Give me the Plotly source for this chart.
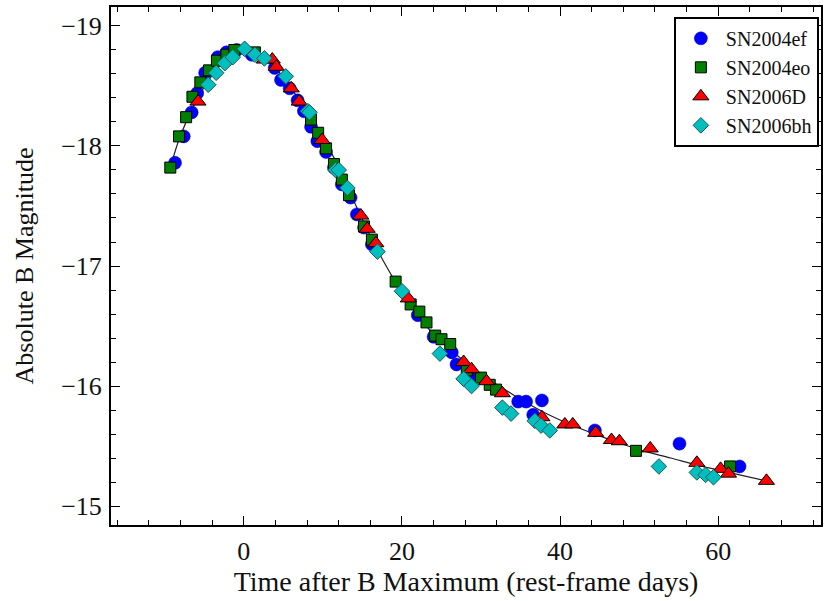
import plotly.graph_objects as go

# Template light curve
curve_days = [-9.3, -8, -6, -4, -2, 0, 2, 4, 6, 8, 10, 12, 14, 16, 18, 20, 22, 24, 26, 28, 30,
              34, 38, 42, 46, 50, 54, 58, 62, 66]
curve_mag = [-17.82, -18.09, -18.38, -18.59, -18.74, -18.80, -18.76, -18.65, -18.48, -18.28,
             -18.06, -17.83, -17.53, -17.25, -17.00, -16.78, -16.59, -16.43, -16.31, -16.20,
             -16.10, -15.93, -15.78, -15.66, -15.56, -15.47, -15.40, -15.33, -15.27, -15.21]

# SN2004ef
ef_days = [-8.7, -7.6, -6.6, -5.9, -4.9, -3.3, -2.2, -0.9, 1.0, 3.9, 4.7, 5.8, 6.8, 7.6, 8.5,
           9.3, 10.4, 11.4, 12.4, 13.5, 14.3, 15.2, 16.2, 22.0, 24.0, 26.3, 26.9, 29.0, 34.7,
           35.7, 37.7, 36.6, 44.4, 55.1, 62.7]
ef_mag = [-17.86, -18.08, -18.28, -18.44, -18.61, -18.74, -18.78, -18.80, -18.76, -18.65,
          -18.55, -18.48, -18.38, -18.29, -18.16, -18.04, -17.95, -17.82, -17.68, -17.57,
          -17.43, -17.32, -17.18, -16.59, -16.41, -16.28, -16.18, -16.08, -15.87, -15.87,
          -15.88, -15.76, -15.63, -15.52, -15.33]

# SN2004eo
eo_days = [-9.3, -8.2, -7.3, -6.5, -5.5, -4.4, -3.4, -2.2, -1.2, 1.4, 8.5, 9.4, 10.4, 11.4,
           12.4, 13.3, 15.2, 16.2, 19.2, 21.1, 22.2, 23.1, 24.2, 25.0, 26.1, 28.2, 30.0, 31.1,
           31.9, 49.6, 61.5]
eo_mag = [-17.82, -18.08, -18.24, -18.41, -18.53, -18.63, -18.71, -18.76, -18.80, -18.78,
          -18.22, -18.11, -17.98, -17.85, -17.72, -17.59, -17.33, -17.22, -16.87, -16.68,
          -16.62, -16.53, -16.42, -16.39, -16.35, -16.13, -16.07, -16.01, -15.97, -15.46,
          -15.33]

# SN2006D
d_days = [-5.8, 2.6, 3.6, 4.1, 6.0, 7.0, 9.9, 14.8, 15.6, 16.7, 20.8, 27.8, 28.8, 30.7, 32.7,
          37.7, 40.6, 41.6, 44.5, 46.5, 47.5, 51.4, 57.3, 60.3, 61.3, 66.1]
d_mag = [-18.37, -18.72, -18.72, -18.66, -18.48, -18.37, -18.05, -17.42, -17.31, -17.19,
         -16.73, -16.20, -16.14, -16.04, -15.94, -15.74, -15.68, -15.68, -15.61, -15.55,
         -15.54, -15.48, -15.36, -15.31, -15.27, -15.21]

# SN2006bh
bh_days = [-4.5, -3.5, -2.4, -1.4, 0.1, 1.4, 2.6, 5.3, 8.1, 8.3, 11.6, 12.0, 13.1, 16.9, 20.0,
           24.8, 27.8, 28.8, 32.7, 33.8, 36.8, 37.6, 38.7, 52.5, 57.3, 58.4, 59.4]
bh_mag = [-18.51, -18.61, -18.69, -18.74, -18.81, -18.76, -18.73, -18.58, -18.29, -18.28,
          -17.80, -17.80, -17.65, -17.12, -16.79, -16.27, -16.06, -16.00, -15.82, -15.77,
          -15.71, -15.67, -15.63, -15.33, -15.28, -15.26, -15.24]

FONT = "Liberation Serif, Times New Roman, serif"

fig = go.Figure()
fig.add_trace(go.Scatter(x=curve_days, y=curve_mag, mode="lines", line=dict(color="#222222", width=1.2, shape="spline"),
                         showlegend=False, hoverinfo="skip"))
fig.add_trace(go.Scatter(x=ef_days, y=ef_mag, mode="markers", name="SN2004ef", legendgroup="a",
                         marker=dict(symbol="circle", size=13, color="#0000ff", line=dict(color="#0000aa", width=0.5))))
fig.add_trace(go.Scatter(x=eo_days, y=eo_mag, mode="markers", name="SN2004eo", legendgroup="b",
                         marker=dict(symbol="square", size=11, color="#007f00", line=dict(color="#000000", width=1))))
fig.add_trace(go.Scatter(x=d_days, y=d_mag, mode="markers", name="SN2006D", legendgroup="c",
                         marker=dict(symbol="triangle-up", size=14, color="#ff0000", line=dict(color="#000000", width=1))))
fig.add_trace(go.Scatter(x=bh_days, y=bh_mag, mode="markers", name="SN2006bh", legendgroup="d",
                         marker=dict(symbol="diamond", size=12, color="#00bfbf", line=dict(color="#225555", width=1))))

axis_common = dict(
    showline=True, linewidth=2, linecolor="black", mirror="ticks",
    ticks="inside", ticklen=9, tickwidth=1.2, tickcolor="black",
    showgrid=False, zeroline=False,
    tickfont=dict(family=FONT, size=26, color="#111111"),
    ticklabelstandoff=2,
)

fig.update_xaxes(
    range=[-16.8, 73.0], tick0=0, dtick=20,
    minor=dict(dtick=4, ticks="inside", ticklen=5, tickcolor="black", tickwidth=1),
    title=dict(text="Time after B Maximum (rest-frame days)", font=dict(family=FONT, size=28, color="#111111"), standoff=2),
    **axis_common,
)
fig.update_yaxes(
    range=[-14.842, -19.158], tick0=-19, dtick=1,
    minor=dict(dtick=0.2, ticks="inside", ticklen=5, tickcolor="black", tickwidth=1),
    title=dict(text="Absolute B Magnitude", font=dict(family=FONT, size=26, color="#111111"), standoff=20),
    **axis_common,
)

fig.update_layout(
    width=825, height=601,
    margin=dict(l=111, r=2, t=7, b=76),
    plot_bgcolor="white", paper_bgcolor="white",
    legend=dict(x=0.997, xanchor="right", y=0.981, yanchor="top",
                bordercolor="black", borderwidth=2, bgcolor="white",
                font=dict(family=FONT, size=20, color="#111111"),
                tracegroupgap=0, itemwidth=40),
)

fig.write_html("out.html")
